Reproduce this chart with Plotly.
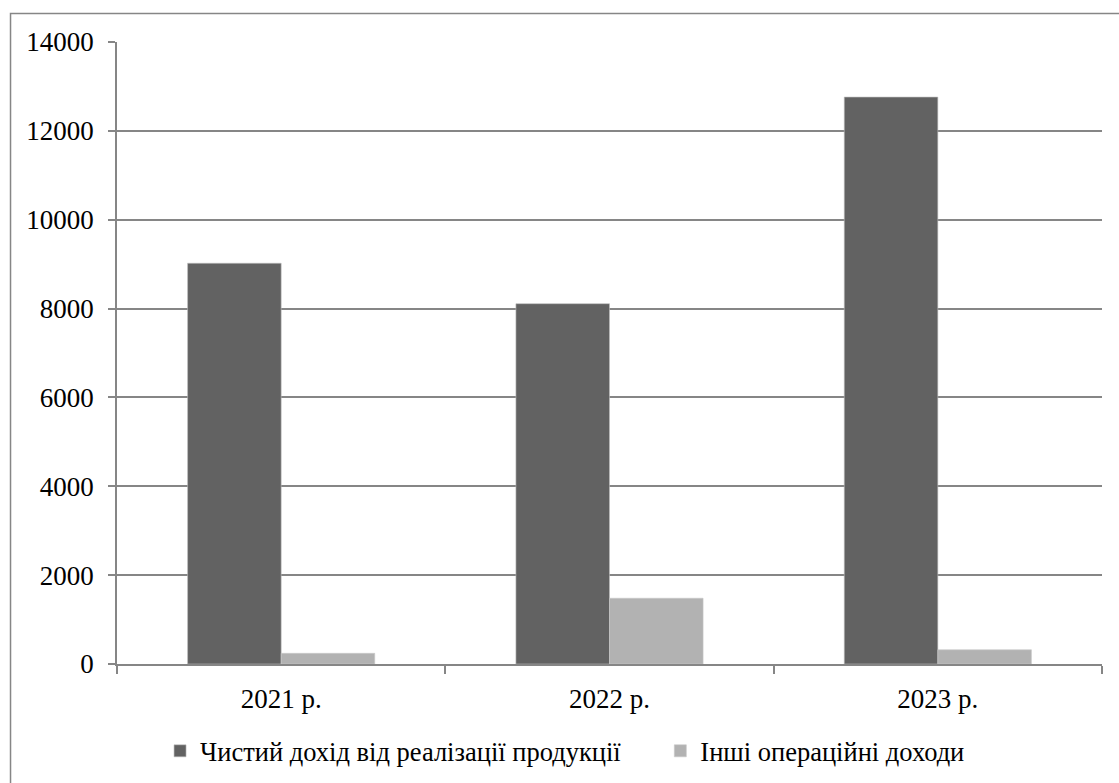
import plotly.graph_objects as go

# Revenue structure by year, thousand UAH
years = ["2021 р.", "2022 р.", "2023 р."]
net_revenue = [9020, 8110, 12760]
other_income = [240, 1480, 320]

series_names = ["Чистий дохід від реалізації продукції", "Інші операційні доходи"]
y_ticks = [0, 2000, 4000, 6000, 8000, 10000, 12000, 14000]

AXIS_GREY = "#868686"
TICK_FONT = dict(family="Liberation Serif", size=27, color="#000000")
LEGEND_FONT = dict(family="Liberation Serif", size=26.5, color="#000000")

fig = go.Figure()
fig.add_trace(go.Bar(
    x=years, y=net_revenue, name=series_names[0], legend="legend",
    marker=dict(color="#626262", line=dict(color="#bdbdbd", width=0.6)),
))
fig.add_trace(go.Bar(
    x=years, y=other_income, name=series_names[1], legend="legend2",
    marker=dict(color="#b2b2b2", line=dict(color="#c8c8c8", width=0.6)),
))

# outer frame of the chart area (right and bottom edges run past the page)
fig.add_shape(
    type="rect", xref="paper", yref="paper",
    x0=-0.1081, x1=1.1, y0=-0.35, y1=1.0458,
    line=dict(color=AXIS_GREY, width=1.5), fillcolor="rgba(0,0,0,0)", layer="below",
)

legend_common = dict(
    orientation="h", xanchor="left", y=-0.14, yanchor="middle",
    font=LEGEND_FONT, itemwidth=30, bgcolor="rgba(0,0,0,0)",
)

fig.update_layout(
    width=1119, height=783,
    margin=dict(l=117, r=17, t=42, b=119, autoexpand=False),
    paper_bgcolor="white", plot_bgcolor="white",
    barmode="group", bargap=0.43, bargroupgap=0,
    font=TICK_FONT,
    showlegend=True,
    legend=dict(x=0.0437, **legend_common),
    legend2=dict(x=0.5516, **legend_common),
    xaxis=dict(
        showline=True, linecolor=AXIS_GREY, linewidth=1.5,
        ticks="outside", tickson="boundaries", ticklen=8, tickcolor=AXIS_GREY, tickwidth=1.5,
        showgrid=False, tickfont=TICK_FONT, ticklabelstandoff=10,
    ),
    yaxis=dict(
        range=[0, 14000], tickvals=y_ticks, ticktext=[str(v) for v in y_ticks],
        showline=True, linecolor=AXIS_GREY, linewidth=1.5,
        ticks="outside", ticklen=7, tickcolor=AXIS_GREY, tickwidth=1.5,
        showgrid=True, gridcolor=AXIS_GREY, gridwidth=1.5,
        zeroline=False, tickfont=TICK_FONT, ticklabelstandoff=9,
    ),
)

fig.write_html("out.html")
